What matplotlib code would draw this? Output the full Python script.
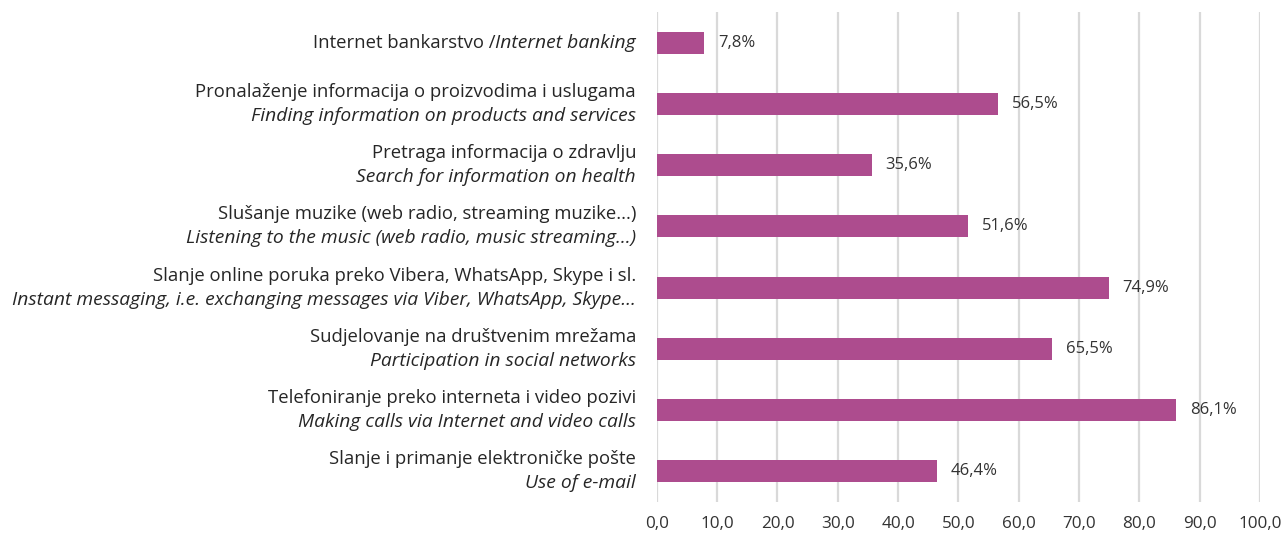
import matplotlib.pyplot as plt
from matplotlib.ticker import FuncFormatter

plt.rcParams["font.family"] = ["Open Sans", "DejaVu Sans"]

# top to bottom
labels_hr = [
    "Internet bankarstvo /",
    "Pronalaženje informacija o proizvodima i uslugama",
    "Pretraga informacija o zdravlju",
    "Slušanje muzike (web radio, streaming muzike...)",
    "Slanje online poruka preko Vibera, WhatsApp, Skype i sl.",
    "Sudjelovanje na društvenim mrežama",
    "Telefoniranje preko interneta i video pozivi",
    "Slanje i primanje elektroničke pošte",
]
labels_en = [
    "Internet banking",
    "Finding information on products and services",
    "Search for information on health",
    "Listening to the music (web radio, music streaming...)",
    "Instant messaging, i.e. exchanging messages via Viber, WhatsApp, Skype...",
    "Participation in social networks",
    "Making calls via Internet and video calls",
    "Use of e-mail",
]
values = [7.8, 56.5, 35.6, 51.6, 74.9, 65.5, 86.1, 46.4]

bar_color = "#AD4C8E"
text_color = "#262626"

fig = plt.figure(figsize=(12.83, 5.35), dpi=100)
ax = fig.add_axes([0.512, 0.0617, 0.470, 0.916])

ypos = list(range(len(values)))
ax.barh(ypos, values, height=0.36, color=bar_color, zorder=3)
ax.set_ylim(len(values) - 0.5, -0.5)
ax.set_xlim(0, 100)
ax.set_xticks(range(0, 101, 10))
ax.xaxis.set_major_formatter(FuncFormatter(lambda v, p: f"{v:.1f}".replace(".", ",")))
ax.tick_params(axis="x", length=0, pad=10, labelsize=12.3, labelcolor="#333333")
ax.set_yticks([])
for s in ax.spines.values():
    s.set_visible(False)
ax.grid(axis="x", color="#d9d9d9", linewidth=1.6, zorder=0)

for y, v in zip(ypos, values):
    ax.annotate(f"{v:.1f}%".replace(".", ","), xy=(v, y), xytext=(10, 0),
                textcoords="offset points", ha="left", va="center",
                fontsize=12, color="#333333")

fs = 13.3
fs_it = 13.9
tr = ax.get_yaxis_transform()
for y, hr, en in zip(ypos, labels_hr, labels_en):
    if y == 0:
        t = ax.annotate(en, xy=(0, y), xycoords=tr, xytext=(-15, 0),
                        textcoords="offset points", ha="right", va="center",
                        fontsize=fs_it, style="italic", color=text_color)
        ax.annotate(hr, xy=(0, 0.5), xycoords=t, ha="right", va="center",
                    fontsize=fs, color=text_color)
    else:
        ax.annotate(hr, xy=(0, y), xycoords=tr, xytext=(-15, 8.6),
                    textcoords="offset points", ha="right", va="center",
                    fontsize=fs, color=text_color)
        ax.annotate(en, xy=(0, y), xycoords=tr, xytext=(-15, -8.6),
                    textcoords="offset points", ha="right", va="center",
                    fontsize=fs_it, style="italic", color=text_color)

fig.savefig("out.png", dpi=100)
